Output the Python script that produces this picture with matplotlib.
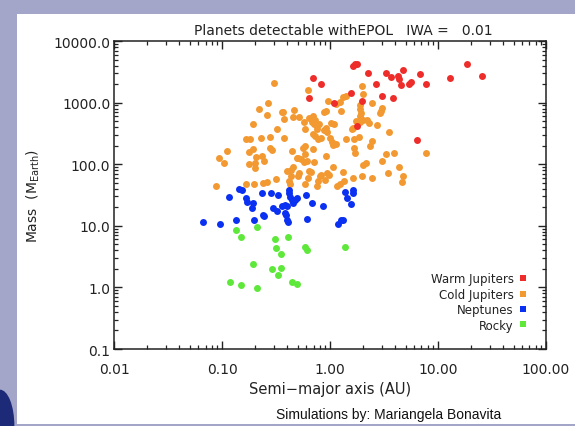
import matplotlib
matplotlib.use("Agg")
import matplotlib.pyplot as plt
from matplotlib.lines import Line2D
from matplotlib.patches import Rectangle, Ellipse

# ---- data: semi-major axis (AU) and mass (Earth masses) ----
warm_a = [1.62, 1.71, 1.78, 0.69, 0.83, 2.23, 2.66, 3.27, 3.68, 4.23,
          4.32, 4.70, 4.55, 5.40, 5.64, 6.80, 7.68, 12.8, 18.5, 25.5,
          0.63, 1.08, 1.55, 1.96, 3.00, 3.80, 1.76, 6.40]
warm_m = [3970, 4310, 4230, 2550, 2040, 3020, 1980, 3020, 2650, 2750,
          2460, 3380, 1930, 2040, 2140, 2880, 2040, 2480, 4230, 2750,
          1190, 985, 1430, 1050, 1270, 1190, 425, 243]

cold_a = [0.301, 0.621, 1.97, 0.264, 0.220, 0.261, 0.354, 0.366, 0.463, 0.453,
          0.512, 0.374, 0.191, 0.322, 0.570, 0.578, 0.634, 0.695, 0.671, 0.705,
          0.720, 0.747, 0.756, 0.789, 0.873, 0.905, 0.956, 1.02, 1.09, 1.14,
          1.23, 1.32, 1.39, 1.25, 0.885, 0.905, 1.60, 1.64, 1.75, 1.88,
          2.02, 2.17, 2.28, 2.00, 1.87, 1.89, 1.92, 1.87, 2.46, 2.96,
          3.00, 2.90, 2.72, 3.47, 1.66, 1.84, 2.46, 2.33, 0.93, 0.690,
          0.720, 0.773, 0.813, 0.695, 0.554, 0.582, 1.00, 1.03, 1.06, 1.14,
          1.39, 1.65, 1.70, 2.15, 2.02, 3.32, 3.94, 3.00, 4.35, 4.77,
          4.63, 7.68, 3.44, 2.43, 1.99, 1.64, 1.32, 1.35, 1.06, 0.93,
          0.98, 0.80, 0.83, 0.77, 0.75, 0.90, 1.16, 1.23, 0.63, 0.67,
          0.62, 0.58, 0.515, 0.50, 0.49, 0.58, 0.61, 0.57, 0.70, 0.92,
          0.435, 0.453, 0.394, 0.429, 0.414, 0.423, 0.312, 0.257, 0.239, 0.196,
          0.165, 0.087, 0.276, 0.231, 0.205, 0.199, 0.178, 0.192, 0.175, 0.164,
          0.180, 0.226, 0.276, 0.374, 0.438, 0.501, 0.534, 0.094, 0.104, 0.110,
          0.199, 0.243, 0.286]
cold_m = [2100, 1600, 1840, 975, 787, 636, 696, 712, 750, 577,
          577, 548, 449, 377, 479, 373, 569, 613, 490, 454,
          522, 373, 422, 454, 696, 731, 1070, 466, 449, 949,
          1035, 1220, 1295, 731, 363, 391, 373, 391, 508, 490,
          522, 528, 466, 1380, 914, 787, 685, 613, 975, 739,
          827, 685, 433, 330, 259, 279, 235, 200, 337, 306,
          284, 257, 263, 177, 183, 200, 263, 227, 203, 210,
          257, 183, 150, 105, 96, 145, 150, 111, 90, 65,
          51, 150, 72, 60, 65, 59, 76, 54, 91, 71,
          66, 64, 67, 54, 45, 55, 45, 48, 78, 76,
          60, 48, 72, 64, 125, 148, 114, 107, 107, 137,
          80, 89, 78, 65, 54, 48, 58, 51, 50, 48,
          48, 44, 181, 134, 131, 103, 100, 177, 158, 259,
          259, 263, 279, 263, 166, 128, 121, 125, 106, 166,
          87, 114, 168]

nep_a = [0.066, 0.095, 0.135, 0.197, 0.115, 0.143, 0.153, 0.164, 0.171, 0.189,
         0.192, 0.231, 0.282, 0.236, 0.245, 0.296, 0.321, 0.325, 0.354, 0.380,
         0.396, 0.380, 0.388, 0.396, 0.403, 0.414, 0.414, 0.420, 0.439, 0.453,
         0.470, 0.491, 0.594, 0.671, 0.853, 0.607, 1.18, 1.27, 1.30, 1.37,
         1.42, 1.61, 1.61, 1.55]
nep_m = [11.5, 10.8, 12.4, 12.4, 29.7, 39.6, 38.1, 28.8, 24.3, 19.5,
         23.2, 33.8, 33.7, 15.1, 14.3, 19.2, 17.7, 31.3, 20.7, 21.8,
         21.2, 16.4, 15.0, 12.2, 11.7, 38.8, 33.7, 29.9, 26.7, 23.9,
         25.8, 27.9, 32.0, 23.4, 20.7, 12.9, 10.7, 12.3, 12.6, 35.0,
         28.6, 38.5, 33.7, 23.0]

rocky_a = [0.135, 0.148, 0.211, 0.307, 0.317, 0.347, 0.403, 0.582, 0.604, 1.38,
           0.193, 0.288, 0.352, 0.330, 0.117, 0.149, 0.209, 0.446, 0.493]
rocky_m = [8.71, 6.65, 9.46, 6.11, 4.36, 3.49, 6.70, 4.58, 4.08, 4.48,
           2.38, 1.99, 2.03, 1.58, 1.21, 1.10, 0.99, 1.21, 1.12]

x_ticks = [0.01, 0.1, 1, 10, 100]
x_labels = ["0.01", "0.10", "1.00", "10.00", "100.00"]
y_ticks = [0.1, 1, 10, 100, 1000, 10000]
y_labels = ["0.1", "1.0", "10.0", "100.0", "1000.0", "10000.0"]

RED, ORANGE, BLUE, GREEN = "#ee2d2a", "#f39932", "#0a30f2", "#5de83a"
INK = "#222222"

# ---- figure: slide-like background with a white panel ----
fig = plt.figure(figsize=(5.75, 4.27), dpi=100, facecolor="#a3a6c9")
fig.patches.append(Ellipse((0.0, 0.0), 0.05, 0.17, transform=fig.transFigure,
                           facecolor="#1c2a78", edgecolor="none", zorder=-3))
fig.patches.append(Rectangle((0.0296, 0.005), 0.9704, 0.96, transform=fig.transFigure,
                             facecolor="white", edgecolor="none", zorder=-2))

ax = fig.add_axes([0.199, 0.1803, 0.7506, 0.7213])
ax.set_xscale("log")
ax.set_yscale("log")

dot = dict(s=25, linewidths=0)
ax.scatter(cold_a, cold_m, color=ORANGE, **dot)
ax.scatter(warm_a, warm_m, color=RED, **dot)
ax.scatter(nep_a, nep_m, color=BLUE, **dot)
ax.scatter(rocky_a, rocky_m, color=GREEN, **dot)

ax.set_xlim(0.01, 100)
ax.set_ylim(0.1, 10000)
ax.set_xticks(x_ticks)
ax.set_xticklabels(x_labels)
ax.set_yticks(y_ticks)
ax.set_yticklabels(y_labels)
ax.tick_params(which="both", direction="in", top=True, right=True,
               colors=INK, labelsize=10)
ax.tick_params(which="major", length=5.5, width=1)
ax.tick_params(which="minor", length=2.8, width=0.9)
ax.tick_params(axis="x", pad=9)
ax.tick_params(axis="y", pad=3)
for sp in ax.spines.values():
    sp.set_color(INK)
    sp.set_linewidth(1.1)

ax.set_xlabel("Semi\u2212major axis (AU)", fontsize=10.5, color=INK, labelpad=4)
ax.set_ylabel("Mass  (M$_{\\mathrm{Earth}}$)", fontsize=10, color=INK, labelpad=8)

fig.text(0.597, 0.927, "Planets detectable withEPOL   IWA =   0.01",
         ha="center", va="center", fontsize=10, color=INK)

# legend: labels on the left, coloured squares on the right
names = ["Warm Jupiters", "Cold Jupiters", "Neptunes", "Rocky"]
cols = [RED, ORANGE, BLUE, GREEN]
handles = [Line2D([], [], linestyle="none", marker="s", markersize=5,
                  markerfacecolor=c, markeredgewidth=0) for c in cols]
ax.legend(handles, names, loc="lower right", bbox_to_anchor=(0.975, 0.03),
          frameon=False, markerfirst=False, fontsize=8.5, handlelength=0.6,
          handletextpad=0.5, labelspacing=0.2, borderpad=0.2, labelcolor=INK)

fig.text(0.675, 0.028, "Simulations by: Mariangela Bonavita", ha="center",
         va="center", fontsize=10, family="Liberation Sans", color="#111111")

fig.savefig("out.png", dpi=100, facecolor=fig.get_facecolor())
